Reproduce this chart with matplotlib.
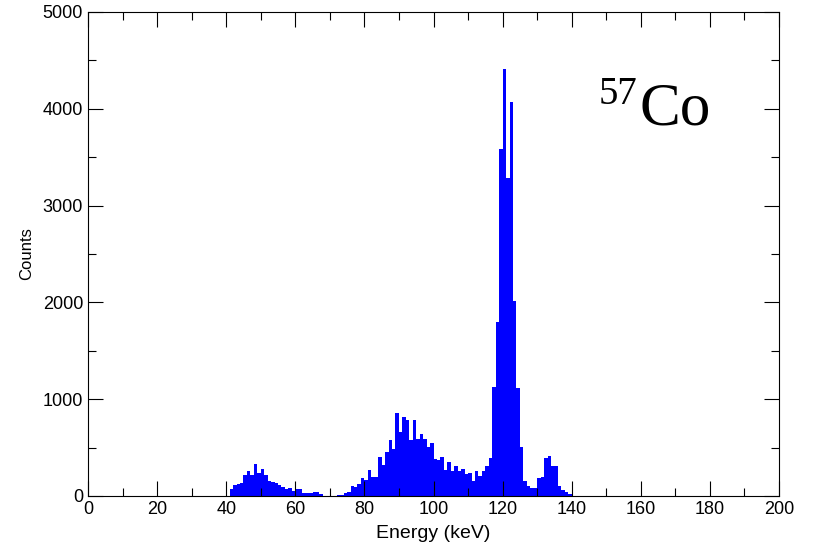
import matplotlib
matplotlib.use("Agg")
import matplotlib.pyplot as plt
import numpy as np
from matplotlib.ticker import MultipleLocator

# 1 keV bins, left edges 40..139 keV
bin_start = 40
counts = [
    0, 70, 118, 128, 135, 220, 262, 220, 330, 235,          # 40-49
    275, 215, 155, 148, 130, 115, 92, 70, 80, 48,           # 50-59
    70, 68, 28, 28, 28, 40, 40, 20, 0, 0,                   # 60-69
    0, 0, 8, 15, 32, 45, 100, 92, 125, 186,                 # 70-79
    165, 272, 193, 200, 400, 320, 458, 579, 490, 854,       # 80-89
    658, 813, 785, 579, 785, 586, 640, 590, 510, 551,       # 90-99
    382, 372, 400, 269, 355, 258, 310, 258, 275, 227,       # 100-109
    241, 158, 258, 207, 258, 310, 389, 1129, 1801, 3585,    # 110-119
    4411, 3282, 4074, 2014, 1112, 510, 150, 100, 80, 80,    # 120-129
    190, 195, 395, 413, 305, 310, 103, 67, 38, 18,          # 130-139
]
xlabel = "Energy (keV)"
ylabel = "Counts"
isotope_mass = "57"
isotope_name = "Co"

edges = bin_start + np.arange(len(counts))

fig = plt.figure(figsize=(8.14, 5.46), dpi=100)
ax = fig.add_axes([88 / 814, 1 - 496 / 546, (779 - 88) / 814, (496 - 12) / 546])

ax.bar(edges, counts, width=1.0, align="edge", color="#0000ff", linewidth=0)

ax.set_xlim(0, 200)
ax.set_ylim(0, 5000)
ax.xaxis.set_major_locator(MultipleLocator(20))
ax.xaxis.set_minor_locator(MultipleLocator(10))
ax.yaxis.set_major_locator(MultipleLocator(1000))
ax.yaxis.set_minor_locator(MultipleLocator(500))
ax.tick_params(which="both", direction="in", top=True, right=True, width=0.8,
               labelsize=13, labelfontfamily="Liberation Sans")
ax.tick_params(which="major", length=10.5)
ax.tick_params(which="minor", length=5.5)
for side in ax.spines.values():
    side.set_linewidth(0.8)

ax.set_xlabel(xlabel, fontsize=14, family="Liberation Sans", labelpad=5)
ax.set_ylabel(ylabel, fontsize=12, family="Liberation Sans", labelpad=6)

# isotope tag: mass number as superscript in front of the symbol, pair centred
mass = ax.text(0, 0.81, isotope_mass, transform=ax.transAxes, ha="left",
               va="baseline", fontsize=28, family="Liberation Serif")
name = ax.text(0, 0.767, isotope_name, transform=ax.transAxes, ha="left",
               va="baseline", fontsize=44, family="Liberation Serif")
fig.canvas.draw()
inv = ax.transAxes.inverted()
w_mass = mass.get_window_extent().transformed(inv).width
w_name = name.get_window_extent().transformed(inv).width
gap = 0.003
centre = (655 - 88) / 691
left = centre - (w_mass + gap + w_name) / 2
mass.set_x(left)
name.set_x(left + w_mass + gap)

fig.savefig("out.png", dpi=100)
